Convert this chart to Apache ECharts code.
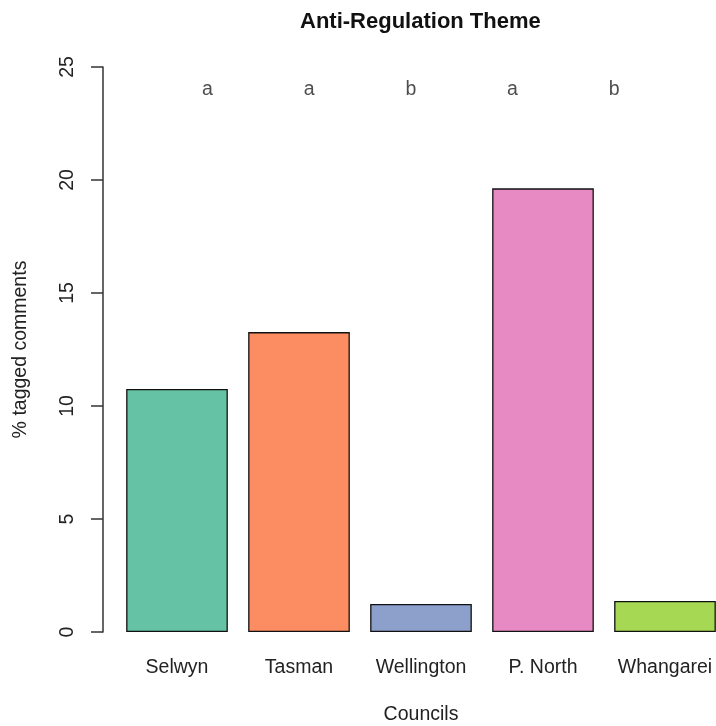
<!DOCTYPE html>
<html>
<head>
<meta charset="utf-8">
<script src="https://cdn.jsdelivr.net/npm/echarts@6/dist/echarts.min.js"></script>
<style>
  html, body { margin: 0; padding: 0; background: #fff; }
  #chart { width: 716px; height: 726px; }
</style>
</head>
<body>
<div id="chart"></div>
<script>
// Percentage of comments tagged with the anti-regulation theme, per council
const councils = ['Selwyn', 'Tasman', 'Wellington', 'P. North', 'Whangarei'];
const taggedPct = [10.75, 13.27, 1.24, 19.63, 1.37];
const barColors = ['#66C2A5', '#FC8D62', '#8DA0CB', '#E78AC3', '#A6D854'];
// Significance group letters, placed at x = 1..5 in bar-plot units, at height 24
const groupLetters = ['a', 'a', 'b', 'a', 'b'];
const letterX = [1, 2, 3, 4, 5];
const letterY = 24;
const yTicks = { min: 0, max: 25, interval: 5 };

const FONT = '"Liberation Sans", Arial, sans-serif';
const TEXT = '#222';

const chart = echarts.init(document.getElementById('chart'), null, { renderer: 'canvas' });

chart.setOption({
  animation: false,
  backgroundColor: '#fff',
  title: {
    text: 'Anti-Regulation Theme',
    left: 300,
    top: 11,
    padding: 0,
    textStyle: { fontFamily: FONT, fontSize: 22, fontWeight: 'bold', color: '#111' }
  },
  // the plotting region runs past the right edge of the canvas
  grid: { left: 116, right: -10, top: 67, bottom: 94, containLabel: false, outerBoundsMode: 'none' },
  xAxis: [
    {
      type: 'category',
      data: councils,
      axisLine: { show: false },
      axisTick: { show: false },
      axisLabel: { interval: 0, margin: 26, fontFamily: FONT, fontSize: 19.5, color: TEXT },
      name: 'Councils',
      nameLocation: 'middle',
      nameGap: 73,
      nameTextStyle: { fontFamily: FONT, fontSize: 19.5, color: TEXT }
    },
    {
      // bar-plot coordinate system: bar i centred at 0.7 + 1.2 i
      type: 'value',
      min: 0.1,
      max: 6.1,
      show: false
    }
  ],
  yAxis: {
    type: 'value',
    min: yTicks.min,
    max: yTicks.max,
    interval: yTicks.interval,
    offset: 13,
    splitLine: { show: false },
    axisLine: { show: true, lineStyle: { color: '#333', width: 1.5 } },
    axisTick: { show: true, length: 12, lineStyle: { color: '#333', width: 1.5 } },
    axisLabel: { rotate: 90, margin: 25, fontFamily: FONT, fontSize: 19.5, color: TEXT },
    name: '% tagged comments',
    nameLocation: 'middle',
    nameRotate: 90,
    nameGap: 72,
    nameTextStyle: { fontFamily: FONT, fontSize: 19.5, color: TEXT }
  },
  series: [
    {
      type: 'bar',
      xAxisIndex: 0,
      barCategoryGap: '16.67%',
      data: taggedPct.map((v, i) => ({
        value: v,
        itemStyle: { color: barColors[i] }
      })),
      itemStyle: { borderColor: '#111', borderWidth: 1.3 }
    },
    {
      type: 'scatter',
      xAxisIndex: 1,
      symbolSize: 0,
      data: letterX.map((x, i) => ({ value: [x, letterY], name: groupLetters[i] })),
      label: {
        show: true,
        position: 'inside',
        formatter: p => p.name,
        fontFamily: FONT,
        fontSize: 19.5,
        color: TEXT
      }
    }
  ]
});
</script>
</body>
</html>
